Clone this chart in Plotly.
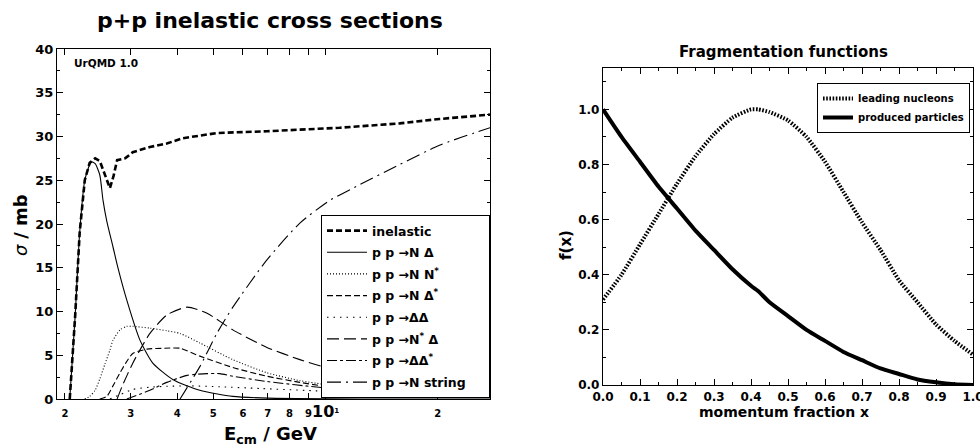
import numpy as np
import plotly.graph_objects as go

W, H = 980, 446
FONT = "DejaVu Sans"

# ---------------- left panel data (E_cm in GeV, sigma in mb) ----------------
E_inel = [2.06, 2.13, 2.19, 2.26, 2.33, 2.41, 2.48, 2.56, 2.64, 2.70, 2.76, 2.90, 3.04, 3.38, 3.75, 4.14, 5.11, 6.96, 10.9, 15.8, 20.2, 27.6]
s_inel = [0.0, 9.5, 19.0, 25.0, 27.0, 27.5, 27.2, 25.5, 24.1, 25.5, 27.3, 27.5, 28.2, 28.8, 29.2, 29.8, 30.4, 30.6, 31.0, 31.5, 32.0, 32.5]

E_ND = [2.06, 2.13, 2.19, 2.26, 2.33, 2.36, 2.41, 2.48, 2.53, 2.59, 2.69, 2.77, 2.93, 3.18, 3.44, 3.90, 4.60, 5.64, 7.0, 10.3, 15.0, 27.6]
s_ND = [0.0, 9.5, 19.0, 25.0, 26.8, 27.1, 26.9, 25.6, 22.7, 20.3, 17.4, 15.1, 11.3, 6.7, 4.1, 2.2, 1.0, 0.3, 0.1, 0.02, 0.0, 0.0]

E_NNs = [2.26, 2.33, 2.41, 2.48, 2.56, 2.64, 2.69, 2.81, 2.93, 3.04, 3.38, 3.75, 4.07, 4.60, 5.64, 6.96, 8.53, 9.83, 12.0, 20.0]
s_NNs = [0.0, 0.3, 1.0, 2.3, 4.0, 5.6, 6.7, 7.9, 8.3, 8.3, 8.1, 7.8, 7.5, 6.4, 4.5, 3.0, 2.1, 1.7, 1.3, 0.7]

E_NDs = [2.48, 2.59, 2.69, 2.81, 2.93, 3.04, 3.32, 3.70, 4.07, 4.60, 5.64, 6.96, 8.53, 9.83, 14.0]
s_NDs = [0.0, 0.3, 1.5, 3.0, 4.3, 5.2, 5.7, 5.8, 5.8, 4.9, 3.6, 2.6, 1.9, 1.5, 1.0]

E_DD = [2.64, 2.81, 3.04, 3.38, 3.75, 4.33, 5.2, 6.67, 9.83, 14.0]
s_DD = [0.0, 0.5, 1.1, 1.35, 1.45, 1.5, 1.4, 1.2, 0.9, 0.6]

E_NsD = [2.76, 2.85, 3.04, 3.38, 3.75, 4.25, 4.81, 5.64, 6.96, 8.53, 9.83, 14.0]
s_NsD = [0.0, 1.5, 4.1, 7.5, 9.6, 10.5, 9.8, 7.9, 5.9, 4.5, 3.7, 2.5]

E_DDs = [2.93, 3.38, 3.75, 4.25, 4.81, 5.2, 5.64, 6.96, 9.83, 14.0]
s_DDs = [0.0, 1.0, 1.9, 2.7, 2.9, 2.9, 2.6, 2.0, 1.3, 0.9]

E_str = [4.07, 4.60, 5.11, 5.64, 6.96, 8.53, 10.26, 12.36, 15.8, 20.2, 27.6]
s_str = [0.0, 3.7, 7.5, 10.5, 15.9, 20.1, 22.7, 24.5, 26.8, 29.0, 31.0]

x_tickvals = [2, 3, 4, 5, 6, 7, 8, 9, 10, 20]
x_ticktext = ["2", "3", "4", "5", "6", "7", "8", "9",
              "<span style='font-size:16px'>10</span><sup>1</sup>", "2"]

# ---------------- right panel data ----------------
x_frag = [0.0, 0.05, 0.1, 0.15, 0.2, 0.25, 0.3, 0.35, 0.4, 0.42, 0.45, 0.5, 0.55, 0.6, 0.65, 0.7, 0.75, 0.8, 0.85, 0.9, 0.95, 1.0]
f_lead = [0.31, 0.40, 0.51, 0.62, 0.73, 0.83, 0.91, 0.97, 1.0, 1.0, 0.99, 0.96, 0.90, 0.81, 0.70, 0.59, 0.49, 0.38, 0.30, 0.22, 0.16, 0.11]
f_prod = [1.0, 0.90, 0.81, 0.72, 0.64, 0.56, 0.49, 0.42, 0.36, 0.34, 0.30, 0.25, 0.20, 0.16, 0.12, 0.09, 0.06, 0.04, 0.02, 0.01, 0.003, 0.0]
x2_ticks = [0.0, 0.1, 0.2, 0.3, 0.4, 0.5, 0.6, 0.7, 0.8, 0.9, 1.0]
y2_ticks = [0.0, 0.2, 0.4, 0.6, 0.8, 1.0]


def pxx(p):
    return p / W


def pxy(p):
    return 1 - p / H


fig = go.Figure()

thin = 1.1
NB = "\u00a0"
left_series = [
    (E_inel, s_inel, "inelastic", dict(width=2.6, dash="6px,3px"), "linear"),
    (E_ND, s_ND, "p p \u2192N \u0394", dict(width=thin), "spline"),
    (E_NNs, s_NNs, "p p \u2192N N<sup>*</sup>", dict(width=thin, dash="1px,2px"), "spline"),
    (E_NDs, s_NDs, "p p \u2192N \u0394<sup>*</sup>", dict(width=thin, dash="6px,3px"), "spline"),
    (E_DD, s_DD, "p p \u2192\u0394\u0394", dict(width=thin, dash="1.5px,5px"), "spline"),
    (E_NsD, s_NsD, "p p \u2192N<sup>*</sup> \u0394", dict(width=thin, dash="12px,5px"), "spline"),
    (E_DDs, s_DDs, "p p \u2192\u0394\u0394<sup>*</sup>", dict(width=thin, dash="10px,3px,3px,3px"), "spline"),
    (E_str, s_str, "p p \u2192N string" + NB * 4, dict(width=thin, dash="14px,5px,2px,5px"), "spline"),
]
for i, (xs, ys, name, ln, shape) in enumerate(left_series):
    ln = dict(ln, color="black", shape=shape)
    if shape == "spline":
        ln["smoothing"] = 0.6
    fig.add_trace(go.Scatter(x=xs, y=ys, mode="lines", name=name, line=ln,
                             legendgroup=f"g{i}",
                             xaxis="x", yaxis="y", legend="legend"))

fig.add_trace(go.Scatter(x=x_frag, y=f_lead, mode="lines", name="leading nucleons",
                         line=dict(color="black", width=4, dash="1.6px,1.6px", shape="spline", smoothing=0.5),
                         xaxis="x2", yaxis="y2", legend="legend2"))
fig.add_trace(go.Scatter(x=x_frag, y=f_prod, mode="lines", name="produced particles",
                         line=dict(color="black", width=4, shape="spline", smoothing=0.5),
                         xaxis="x2", yaxis="y2", legend="legend2"))

axis_common = dict(showline=True, linecolor="black", linewidth=1.3, mirror="ticks",
                   ticks="inside", ticklen=6, tickwidth=1, tickcolor="black",
                   showgrid=False, zeroline=False, automargin=False,
                   ticklabeloverflow="allow", tickangle=0)

fig.update_layout(
    width=W, height=H,
    margin=dict(l=0, r=0, t=0, b=0),
    paper_bgcolor="white", plot_bgcolor="white",
    font=dict(family=FONT, color="black"),
    xaxis=dict(axis_common, domain=[pxx(57), pxx(490)], type="log",
               range=[np.log10(1.904), np.log10(27.6)],
               tickvals=x_tickvals, ticktext=x_ticktext, ticklabelstandoff=5,
               tickfont=dict(size=10, weight="bold"), anchor="y"),
    yaxis=dict(axis_common, domain=[pxy(399), pxy(49)], range=[0, 40], dtick=5,
               tickfont=dict(size=13, weight="bold"), anchor="x",
               minor=dict(dtick=2.5, ticks="inside", ticklen=3, tickcolor="black")),
    xaxis2=dict(axis_common, domain=[pxx(603), pxx(973)], range=[0, 1],
                tickvals=x2_ticks, ticktext=[f"{v:.1f}" for v in x2_ticks],
                tickfont=dict(size=12, weight="bold"), anchor="y2",
                minor=dict(dtick=0.05, ticks="inside", ticklen=3, tickcolor="black")),
    yaxis2=dict(axis_common, domain=[pxy(385), pxy(68)], range=[0, 1.15],
                tickvals=y2_ticks, ticktext=[f"{v:.1f}" for v in y2_ticks],
                tickfont=dict(size=12, weight="bold"), anchor="x2",
                minor=dict(dtick=0.1, ticks="inside", ticklen=3, tickcolor="black")),
    legend=dict(x=pxx(490), xanchor="right", y=pxy(398), yanchor="bottom",
                bgcolor="white", bordercolor="black", borderwidth=1,
                font=dict(size=12.5, weight="bold"), itemwidth=40,
                traceorder="grouped", tracegroupgap=2.4),
    legend2=dict(x=pxx(970), xanchor="right", y=pxy(83), yanchor="top",
                 bgcolor="white", bordercolor="black", borderwidth=1,
                 font=dict(size=10, weight="bold"), itemwidth=30),
    showlegend=True,
)

ann = [
    dict(text="<b>p+p inelastic cross sections</b>", x=pxx(270), y=pxy(20), font=dict(size=22)),
    dict(text="<b>Fragmentation functions</b>", x=pxx(783), y=pxy(52), font=dict(size=15)),
    dict(text="<b>UrQMD 1.0</b>", x=pxx(106), y=pxy(63), font=dict(size=10.5)),
    dict(text="<b>E<sub>cm</sub> / GeV</b>", x=pxx(270), y=pxy(435), font=dict(size=18)),
    dict(text="<b>momentum fraction x</b>", x=pxx(784), y=pxy(412), font=dict(size=14)),
    dict(text="<i>\u03c3</i> <b>/ mb</b>", x=pxx(20), y=pxy(225), font=dict(size=18), textangle=-90),
    dict(text="<b>f(x)</b>", x=pxx(566), y=pxy(245), font=dict(size=15), textangle=-90),
]
for a in ann:
    fig.add_annotation(xref="paper", yref="paper", showarrow=False,
                       xanchor="center", yanchor="middle", **a)

fig.write_html("out.html")
